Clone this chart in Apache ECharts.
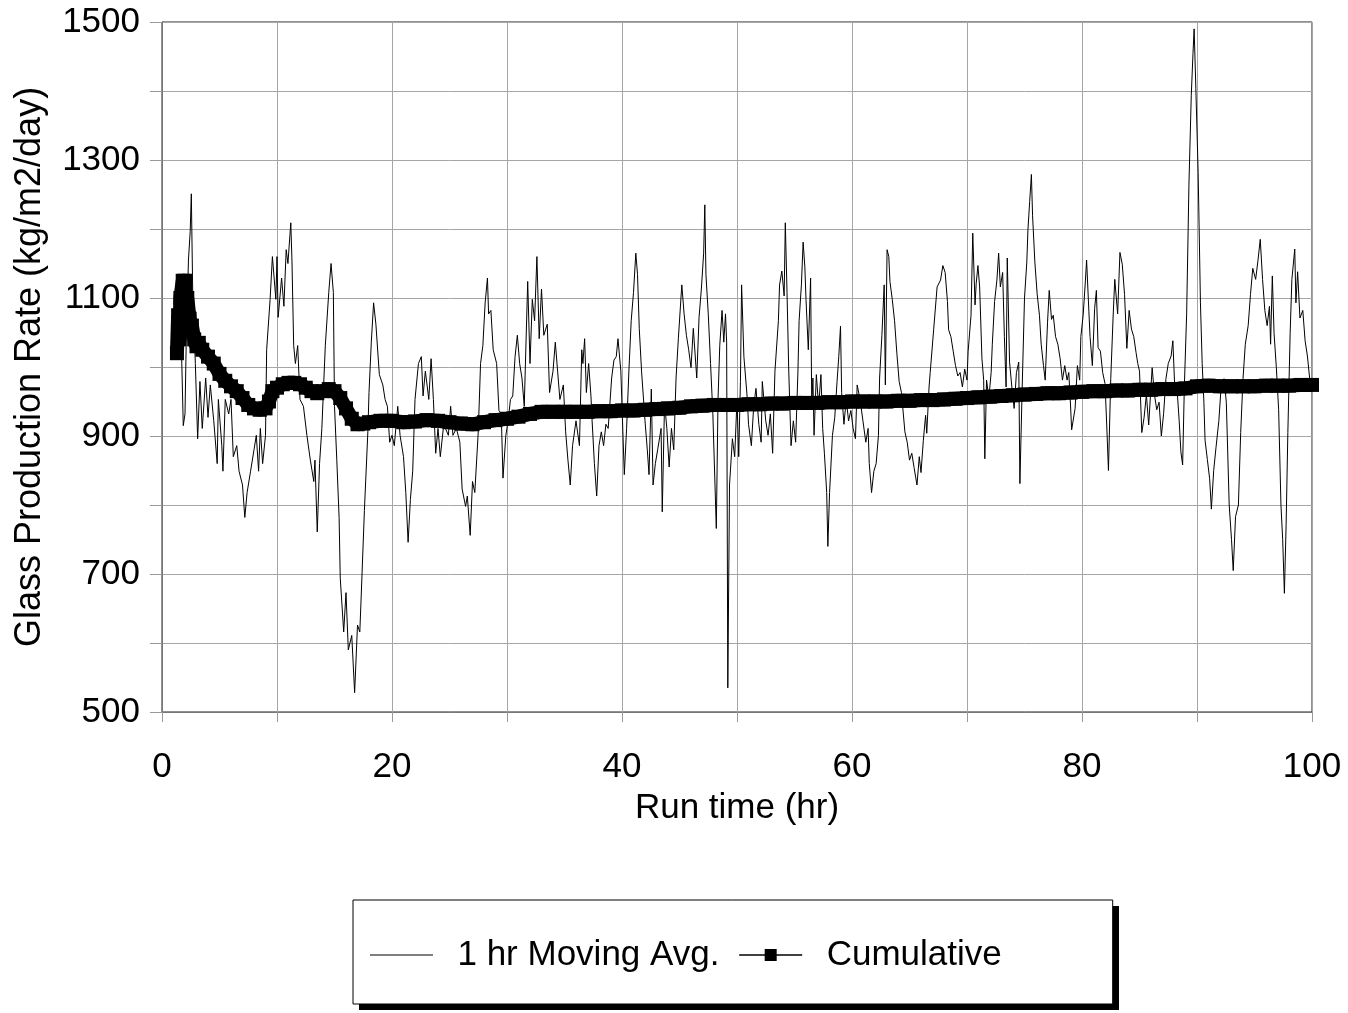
<!DOCTYPE html>
<html>
<head>
<meta charset="utf-8">
<script src="https://cdn.jsdelivr.net/npm/echarts@6/dist/echarts.min.js"></script>
<style>
html,body{margin:0;padding:0;background:#fff;}
#chart{width:1348px;height:1013px;}
</style>
</head>
<body>
<div id="chart"></div>
<script>
// ---- Data ----
const runTime = [
1.7,1.85,2.0,2.1,2.3,2.45,2.55,2.67,2.9,3.1,3.3,3.5,3.8,4.0,4.2,4.5,4.8,4.9,5.2,5.3,5.5,5.8,6.0,6.2,6.5,6.7,7.0,7.2,7.4,7.7,8.0,8.2,8.4,8.55,8.75,9.0,9.1,9.4,9.6,9.9,10.0,10.1,10.4,10.6,10.8,10.95,11.2,11.3,11.45,11.6,11.8,12.0,12.3,12.6,12.9,13.2,13.3,13.5,13.7,13.9,14.2,14.5,14.7,14.9,15.0,15.2,15.4,15.5,15.8,16.0,16.2,16.5,16.75,17.0,17.2,17.3,17.6,17.9,18.0,18.2,18.4,18.6,18.9,19.2,19.4,19.6,19.8,20.0,20.2,20.5,20.7,21.0,21.2,21.4,21.6,21.8,22.0,22.3,22.55,22.7,22.9,23.2,23.4,23.6,23.8,24.0,24.2,24.5,24.9,25.1,25.3,25.6,25.9,26.1,26.4,26.55,26.8,27.0,27.2,27.5,27.7,27.9,28.1,28.3,28.4,28.6,28.8,29.1,29.3,29.5,29.65,29.9,30.1,30.3,30.5,30.7,30.9,31.1,31.3,31.5,31.8,32.0,32.2,32.4,32.6,32.8,33.0,33.2,33.5,33.7,34.0,34.2,34.4,34.6,34.9,35.1,35.3,35.5,35.7,36.0,36.3,36.5,36.6,36.75,36.9,37.1,37.3,37.4,37.6,37.8,38.0,38.2,38.4,38.6,38.8,39.1,39.3,39.5,39.65,39.9,40.0,40.2,40.4,40.6,40.8,41.0,41.2,41.35,41.5,41.7,42.0,42.2,42.35,42.55,42.7,42.9,43.1,43.4,43.5,43.7,43.9,44.1,44.3,44.5,44.7,44.9,45.2,45.4,45.6,45.8,46.0,46.2,46.5,46.7,46.9,47.1,47.2,47.3,47.5,47.7,47.9,48.2,48.35,48.5,48.7,48.85,49.0,49.1,49.2,49.35,49.6,49.8,50.0,50.15,50.3,50.4,50.6,50.9,51.0,51.25,51.45,51.65,51.9,52.1,52.2,52.5,52.7,52.9,53.1,53.3,53.6,53.7,53.9,54.1,54.2,54.35,54.5,54.7,54.9,55.1,55.3,55.4,55.6,55.75,55.9,56.0,56.2,56.4,56.5,56.6,56.7,56.9,57.1,57.3,57.45,57.6,57.8,57.9,58.05,58.3,58.5,58.7,58.85,59.0,59.1,59.3,59.5,59.7,59.9,60.1,60.3,60.45,60.7,60.95,61.2,61.4,61.5,61.7,61.9,62.1,62.3,62.4,62.6,62.8,62.9,63.05,63.2,63.3,63.5,63.7,63.9,64.1,64.3,64.6,64.8,65.0,65.2,65.4,65.65,65.85,66.0,66.2,66.4,66.5,66.7,66.8,67.1,67.4,67.7,67.9,68.1,68.3,68.4,68.6,68.8,69.0,69.2,69.4,69.6,69.8,70.0,70.1,70.35,70.5,70.7,70.8,70.95,71.1,71.3,71.45,71.55,71.7,71.9,72.1,72.2,72.4,72.6,72.75,72.9,73.1,73.25,73.4,73.5,73.7,73.9,74.1,74.3,74.5,74.6,74.8,75.0,75.2,75.3,75.45,75.6,75.7,75.9,76.1,76.3,76.45,76.65,76.8,77.0,77.15,77.35,77.5,77.7,77.9,78.1,78.3,78.5,78.7,78.85,79.0,79.1,79.4,79.6,79.8,79.9,80.1,80.3,80.4,80.6,80.7,80.9,81.1,81.25,81.4,81.6,81.8,82.0,82.15,82.3,82.5,82.7,82.85,83.1,83.3,83.5,83.7,83.9,84.1,84.3,84.5,84.7,84.85,85.0,85.2,85.4,85.6,85.8,86.1,86.3,86.5,86.7,86.9,87.1,87.3,87.5,87.75,87.9,88.05,88.25,88.45,88.6,88.75,88.9,89.1,89.3,89.5,89.65,89.75,89.9,90.1,90.3,90.45,90.6,90.7,90.9,91.1,91.25,91.45,91.65,91.9,92.1,92.35,92.55,92.8,93.0,93.15,93.35,93.6,93.8,94.0,94.2,94.45,94.65,94.85,95.1,95.3,95.5,95.7,95.9,96.1,96.3,96.4,96.55,96.7,96.9,97.1,97.3,97.45,97.6,97.75,97.9,98.1,98.25,98.5,98.6,98.75,98.95,99.2,99.4,99.6,99.8
];
const movingAvg = [
1020,915,932,1030,1155,1196,1251,1108,1005,896,979,911,984,927,974,922,860,953,886,849,953,932,953,870,886,849,829,782,818,849,880,901,849,911,860,901,1025,1098,1160,1098,1160,1072,1129,1088,1170,1150,1209,1155,1031,1005,1031,953,943,901,865,834,865,761,860,911,1031,1108,1150,1108,943,865,782,694,616,673,590,611,528,626,616,658,792,906,963,1036,1093,1062,989,974,953,943,891,901,886,943,901,870,818,746,808,849,953,1005,1015,958,994,953,1012,953,875,911,870,917,901,943,901,911,891,823,798,813,756,834,818,906,1005,1031,1093,1129,1077,1082,1025,1005,937,932,839,901,922,953,958,1015,1046,1005,984,943,1124,1005,1098,1067,1160,1041,1113,1046,1062,963,994,1036,994,953,974,906,865,829,886,922,886,1025,1005,1041,963,1005,958,922,860,813,886,906,886,917,911,984,1010,1015,1041,994,943,844,911,994,1067,1108,1165,1134,1056,994,922,880,844,968,829,860,880,911,790,948,911,855,911,880,984,1041,1119,1077,1046,1025,999,1056,984,1072,1113,1165,1235,1134,1077,1005,932,766,953,1031,1082,1036,1077,1036,535,829,896,870,953,870,979,1119,1015,953,917,886,943,969,917,891,979,922,901,932,875,994,1067,1119,1139,1103,1209,1108,994,886,922,891,994,1067,1119,1181,1145,1098,1025,1129,943,984,901,989,943,989,911,875,818,740,818,901,927,979,1015,1059,963,917,953,922,937,911,896,974,953,922,891,911,860,818,849,860,901,984,1046,1119,974,1170,1160,1124,1098,1067,1020,979,963,906,891,865,875,854,829,870,847,893,930,904,971,992,1054,1116,1126,1147,1137,1095,1054,1044,1023,1002,987,992,971,997,981,1023,1075,1194,1090,1121,1147,1116,1012,981,867,981,955,992,1033,1095,1126,1165,1116,1137,1044,971,1158,1007,971,940,992,1007,831,971,1100,1152,1199,1240,1279,1220,1152,1106,1075,1033,1002,981,1064,1111,1069,1075,1044,1033,1012,981,1002,981,992,945,909,940,1002,981,1044,1075,1126,1155,1080,1044,1002,1085,1111,1028,1023,992,976,916,850,983,1071,1127,1077,1166,1149,1105,1027,1082,1055,1044,1021,1005,994,905,927,960,916,999,960,938,949,900,933,983,1005,1016,1038,977,972,922,877,858,972,1077,1265,1393,1454,1490,1404,1282,1093,1005,949,894,866,838,794,850,883,922,972,983,949,800,750,705,783,800,905,983,1033,1060,1105,1143,1127,1154,1185,1127,1082,1060,1088,1033,1132,1049,999,938,800,750,672,772,905,1049,1127,1171,1093,1138,1071,1082,1038,1016,983
];
const cumTime = [1.3,1.4,1.5,1.6,1.8,2.0,2.1,2.2,2.4,2.6,2.8,3.0,3.2,3.5,4.0,4.5,5.0,5.5,6.0,6.5,7.0,7.5,8.0,8.5,9.0,9.3,9.6,10.0,10.5,11.0,11.5,12.0,12.5,13.0,13.5,14.0,14.5,15.0,15.5,16.0,16.5,17.0,17.5,18,19,20,21,22,23,24,25,26,27,28,29,30,31,32,33,34,35,36,37,38,39,40,41,42,43,44,45,46,47,48,49,50,51,52,53,54,55,56,57,58,59,60,61,62,63,64,65,66,67,68,69,70,71,72,73,74,75,76,77,78,79,80,81,82,83,84,85,86,87,88,89,90,91,92,93,94,95,96,97,98,99,100];
const cumulative = [1020,1075,1040,1100,1125,1125,1090,1100,1070,1060,1040,1030,1035,1025,1015,1005,990,980,972,965,955,945,940,938,940,950,965,970,975,977,977,975,970,965,962,965,968,965,955,940,925,917,918,920,922,922,920,921,923,922,920,918,917,920,923,925,928,932,935,935,935,935,935,936,936,937,937,938,939,940,941,943,944,945,945,945,946,946,947,947,948,948,948,949,949,950,950,950,950,951,951,952,952,953,954,955,956,957,958,959,960,961,962,962,963,964,965,965,966,966,967,967,968,968,969,972,973,972,972,972,972,973,973,973,974,974,974];
const xTickLabels = [0,20,40,60,80,100];
const yTickLabels = [500,700,900,1100,1300,1500];

const maData = runTime.map((t,i)=>[t,movingAvg[i]]);
const cumData = cumTime.map((t,i)=>[t,cumulative[i]]);

const FONT = 'Liberation Sans, Arial, sans-serif';
const chart = echarts.init(document.getElementById('chart'), null, {renderer:'canvas'});
chart.setOption({
  backgroundColor:'#fff',
  animation:false,
  grid:{left:162,right:36,top:22,bottom:301,show:true,borderColor:'#222',borderWidth:1,backgroundColor:'transparent'},
  xAxis:{
    type:'value',min:0,max:100,interval:10,
    name:'Run time (hr)',nameLocation:'middle',nameGap:79,
    nameTextStyle:{fontFamily:FONT,fontSize:35,color:'#000'},
    axisLine:{lineStyle:{color:'#777',width:1}},
    axisTick:{show:true,length:10,lineStyle:{color:'#999'}},
    axisLabel:{margin:38,fontFamily:FONT,fontSize:35,color:'#000',
      formatter:v=>xTickLabels.indexOf(v)>=0?String(v):''},
    splitLine:{show:true,lineStyle:{color:'#a6a6a6',width:1}}
  },
  yAxis:{
    type:'value',min:500,max:1500,interval:100,
    name:'Glass Production Rate (kg/m2/day)',nameLocation:'middle',nameGap:114,nameRotate:90,
    nameTextStyle:{fontFamily:FONT,fontSize:36,color:'#000'},
    axisLine:{show:true,lineStyle:{color:'#777',width:1}},
    axisTick:{show:true,length:12,lineStyle:{color:'#999'}},
    axisLabel:{margin:22,fontFamily:FONT,fontSize:35,color:'#000',
      formatter:v=>yTickLabels.indexOf(v)>=0?String(v):''},
    splitLine:{show:true,lineStyle:{color:'#a6a6a6',width:1}}
  },
  graphic:[
    {type:'rect',left:359,top:906,z:0,zlevel:0,
     shape:{width:760,height:104},style:{fill:'#000'}}
  ],
  legend:{
    left:353,top:900,orient:'horizontal',
    padding:[37,111,31,17],
    itemWidth:63,itemHeight:15,itemGap:19,
    backgroundColor:'#fff',borderColor:'#000',borderWidth:1,
    textStyle:{fontFamily:FONT,fontSize:35,lineHeight:36,color:'#000'},
    formatter:n=>'  '+n,
    z:10,
    data:[
      {name:'1 hr Moving Avg.',icon:'path://M0,0L63,0L63,1L0,1Z',itemStyle:{color:'#000'}},
      {name:'Cumulative',lineStyle:{width:1.5,color:'#000'},itemStyle:{color:'#000'}}
    ]
  },
  series:[
    {name:'1 hr Moving Avg.',type:'line',data:maData,symbol:'none',
     lineStyle:{color:'#000',width:1},itemStyle:{color:'#000'},z:2},
    {name:'Cumulative',type:'line',data:cumData,symbol:'rect',symbolSize:14,showSymbol:true,showAllSymbol:true,
     lineStyle:{color:'#000',width:14},itemStyle:{color:'#000'},z:3}
  ]
});
</script>
</body>
</html>
